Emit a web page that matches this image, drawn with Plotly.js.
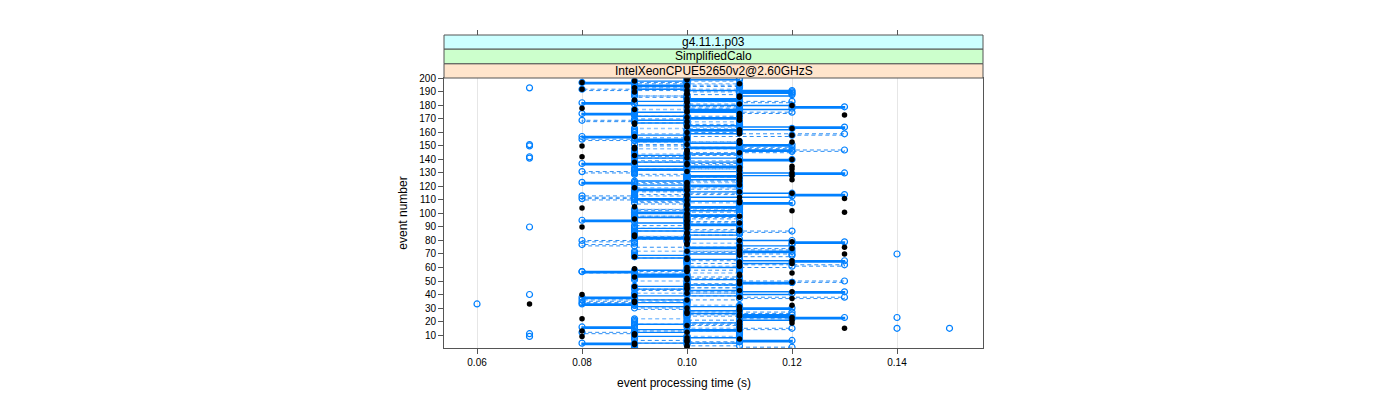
<!DOCTYPE html>
<html>
<head>
<meta charset="utf-8">
<script src="https://cdn.plot.ly/plotly-3.0.1.min.js"></script>
<style>html,body{margin:0;padding:0;background:#fff;}#chart{width:1400px;height:400px;}</style>
</head>
<body>
<div id="chart"></div>
<script>
// ---- data (event processing time in seconds, per event 1..200) ----
const stripLabels = ["g4.11.1.p03", "SimplifiedCalo", "IntelXeonCPUE52650v2@2.60GHzS"];
const xTickVals = [0.06, 0.08, 0.10, 0.12, 0.14];
const yTickVals = [10,20,30,40,50,60,70,80,90,100,110,120,130,140,150,160,170,180,190,200];
const xTitle = "event processing time (s)";
const yTitle = "event number";

const timesBlack = [
 .10,.10,.09,.09,.10,.10,.11,.10,.08,.09,
 .09,.10,.08,.11,.13,.11,.10,.11,.12,.11,
 .12,.08,.12,.11,.11,.10,.10,.11,.11,.10,
 .11,.12,.07,.09,.09,.10,.12,.11,.09,.08,
 .10,.12,.11,.10,.10,.09,.10,.11,.12,.11,
 .10,.10,.09,.11,.11,.12,.10,.10,.09,.10,
 .11,.11,.12,.11,.12,.10,.10,.09,.11,.13,
 .11,.10,.11,.12,.13,.11,.10,.10,.12,.11,
 .10,.10,.09,.09,.10,.10,.11,.11,.10,.08,
 .10,.10,.11,.10,.10,.09,.10,.11,.10,.10,
 .13,.12,.10,.08,.09,.10,.10,.11,.11,.10,
 .13,.11,.10,.10,.12,.11,.10,.10,.09,.10,
 .11,.10,.10,.11,.12,.11,.11,.12,.11,.12,
 .10,.11,.12,.11,.12,.10,.10,.09,.11,.12,
 .10,.08,.09,.10,.11,.10,.10,.09,.09,.08,
 .10,.11,.12,.11,.10,.10,.09,.12,.11,.10,
 .11,.11,.12,.10,.10,.09,.09,.10,.11,.11,
 .10,.11,.13,.11,.10,.10,.09,.08,.10,.12,
 .11,.10,.10,.09,.10,.11,.11,.10,.10,.09,
 .10,.08,.09,.10,.10,.11,.08,.09,.10,.10
];
const timesRunA = [
 .09,.09,.09,.08,.11,.12,.11,.11,.10,.09,
 .09,.09,.10,.11,.09,.08,.09,.09,.10,.11,
 .11,.12,.13,.11,.12,.11,.10,.10,.11,.12,
 .11,.09,.08,.09,.10,.10,.09,.08,.09,.11,
 .12,.13,.11,.10,.09,.09,.10,.11,.12,.11,
 .11,.10,.10,.09,.10,.09,.08,.09,.10,.10,
 .11,.11,.11,.12,.13,.11,.10,.09,.09,.10,
 .11,.12,.11,.11,.10,.11,.12,.12,.13,.12,
 .11,.09,.10,.10,.11,.11,.10,.09,.09,.10,
 .10,.11,.10,.09,.08,.09,.09,.10,.11,.10,
 .09,.10,.11,.11,.10,.11,.11,.12,.11,.10,
 .09,.10,.12,.13,.12,.11,.10,.09,.10,.10,
 .11,.09,.08,.09,.10,.11,.11,.10,.12,.13,
 .11,.10,.09,.10,.11,.09,.08,.09,.11,.12,
 .11,.09,.09,.10,.11,.11,.12,.11,.10,.11,
 .12,.11,.10,.09,.10,.09,.08,.09,.10,.11,
 .11,.10,.12,.13,.11,.10,.10,.09,.09,.10,
 .11,.10,.09,.08,.09,.11,.10,.12,.13,.12,
 .09,.08,.09,.11,.10,.11,.11,.12,.12,.11,
 .12,.10,.09,.09,.10,.09,.08,.09,.10,.11
];
const timesRunB = [
 .12,.11,.10,.10,.11,.10,.09,.09,.09,.09,
 .09,.08,.09,.11,.12,.11,.11,.10,.11,.10,
 .10,.11,.12,.11,.10,.11,.12,.11,.10,.09,
 .10,.09,.09,.08,.09,.08,.11,.13,.11,.10,
 .10,.11,.10,.09,.10,.11,.11,.10,.12,.13,
 .11,.10,.11,.10,.09,.09,.08,.10,.11,.11,
 .12,.13,.11,.10,.10,.11,.11,.11,.12,.12,
 .11,.10,.11,.12,.11,.09,.08,.09,.09,.08,
 .09,.10,.09,.10,.11,.11,.12,.11,.10,.09,
 .09,.10,.10,.11,.10,.10,.11,.09,.10,.11,
 .11,.10,.09,.10,.11,.10,.10,.09,.10,.09,
 .08,.09,.08,.09,.11,.10,.09,.10,.11,.11,
 .10,.10,.09,.10,.11,.10,.10,.11,.10,.09,
 .08,.09,.10,.11,.10,.10,.11,.10,.09,.10,
 .10,.09,.10,.11,.10,.12,.13,.11,.12,.10,
 .09,.10,.11,.09,.08,.09,.10,.12,.13,.11,
 .10,.10,.11,.11,.10,.11,.10,.09,.08,.09,
 .10,.10,.11,.11,.12,.11,.11,.11,.10,.11,
 .10,.11,.12,.11,.11,.10,.09,.10,.11,.12,
 .10,.08,.09,.10,.11,.10,.09,.10,.11,.10
];
const timesRunC = [
 .09,.09,.09,.09,.10,.10,.10,.10,.10,.11,
 .11,.11,.11,.11,.11,.10,.10,.10,.09,.09,
 .09,.09,.10,.10,.10,.10,.10,.11,.11,.11,
 .11,.11,.10,.10,.10,.09,.09,.09,.09,.09,
 .09,.11,.11,.11,.11,.10,.10,.10,.10,.10,
 .09,.09,.09,.09,.09,.09,.11,.11,.11,.11,
 .11,.10,.10,.10,.10,.10,.10,.09,.09,.09,
 .09,.09,.11,.11,.11,.11,.11,.11,.10,.10,
 .10,.10,.10,.09,.09,.09,.09,.11,.11,.11,
 .11,.11,.10,.10,.10,.10,.10,.10,.09,.09,
 .09,.09,.09,.11,.11,.11,.11,.11,.10,.10,
 .10,.10,.10,.09,.09,.09,.09,.09,.09,.11,
 .11,.11,.11,.10,.10,.10,.10,.10,.09,.09,
 .09,.09,.09,.11,.11,.11,.11,.11,.11,.10,
 .10,.10,.10,.10,.09,.09,.09,.09,.11,.11,
 .11,.11,.11,.10,.10,.10,.10,.10,.10,.09,
 .09,.09,.09,.11,.11,.11,.11,.11,.10,.10,
 .10,.10,.09,.09,.09,.09,.09,.11,.11,.11,
 .11,.11,.11,.10,.10,.10,.10,.09,.09,.09,
 .09,.09,.11,.11,.11,.11,.10,.10,.10,.10
];
// isolated slow/fast events (open circles without connecting steps)
const outlierTimes  = [.06, .07, .07, .07, .07, .07, .07, .07, .07, .07, .14, .14, .14, .15];
const outlierEvents = [ 33, 193, 151, 150, 142, 141,  90,  40,  11,   9,  70,  23,  15,  15];

const eventNumbers = timesBlack.map((_, i) => i + 1);

// ---- traces ----
const FONT = "Liberation Sans, Arial, Helvetica, sans-serif";
const BLUE = "#0080ff";
const openCircle = {symbol: "circle-open", size: 6, color: BLUE, line: {width: 1.2, color: BLUE}};
const traces = [
  {
    x: timesRunC, y: eventNumbers, type: "scatter", mode: "lines+markers",
    line: {shape: "hv", color: "#8cc4ff", width: 1.5, dash: "4px,3px"},
    marker: openCircle, hoverinfo: "x+y"
  },
  {
    x: timesRunB, y: eventNumbers, type: "scatter", mode: "lines+markers",
    line: {shape: "hv", color: "#2b8ef5", width: 1, dash: "4px,3px"},
    marker: openCircle, hoverinfo: "x+y"
  },
  {
    x: timesRunA, y: eventNumbers, type: "scatter", mode: "lines+markers",
    line: {shape: "hv", color: BLUE, width: 1.4},
    marker: openCircle, hoverinfo: "x+y"
  },
  {
    x: outlierTimes, y: outlierEvents, type: "scatter", mode: "markers",
    marker: openCircle, hoverinfo: "x+y"
  },
  {
    x: timesBlack, y: eventNumbers, type: "scatter", mode: "markers",
    marker: {symbol: "circle", size: 5.5, color: "#000000"},
    hoverinfo: "x+y"
  },
  { // carries the top tick marks above the strips
    x: [xTickVals[0]], y: [yTickVals[0]], xaxis: "x2", type: "scatter", mode: "markers",
    marker: {opacity: 0}, hoverinfo: "skip", showlegend: false
  }
];

// ---- layout ----
const xr = [0.05371, 0.15638];
const panelTop = 0.8626;               // panel top in paper units (strips above)
const stripEdges = [0.8626, 0.9083, 0.9553, 1.0];
const stripColors = ["#ffe5cc", "#ccffcc", "#ccffff"];
const stripOrder = [2, 1, 0];          // bottom strip first

const shapes = [];
const annotations = [];
for (let k = 0; k < 3; k++) {
  shapes.push({
    type: "rect", xref: "paper", yref: "paper", x0: 0, x1: 1,
    y0: stripEdges[k], y1: stripEdges[k + 1],
    fillcolor: stripColors[k], line: {color: "#555555", width: 1}, layer: "above"
  });
  annotations.push({
    xref: "paper", yref: "paper", x: 0.5, y: (stripEdges[k] + stripEdges[k + 1]) / 2,
    text: stripLabels[stripOrder[k]], showarrow: false, xanchor: "center", yanchor: "middle",
    font: {family: FONT, size: 12, color: "#000"}
  });
}
annotations.push({
  xref: "paper", yref: "paper", x: 0.4453, y: -0.112, yanchor: "middle", xanchor: "center",
  text: xTitle, showarrow: false, font: {family: FONT, size: 12, color: "#000"}
});

const layout = {
  width: 1400, height: 400,
  margin: {l: 444, r: 417, t: 35, b: 52, pad: 0},
  paper_bgcolor: "#ffffff", plot_bgcolor: "#ffffff",
  showlegend: false,
  font: {family: FONT, size: 10, color: "#000"},
  xaxis: {
    range: xr, tickvals: xTickVals, tickformat: ".2f",
    ticks: "outside", ticklen: 5, tickcolor: "#555555", tickwidth: 1,
    showline: true, mirror: true, linecolor: "#555555", linewidth: 1,
    showgrid: true, gridcolor: "#e6e6e6", gridwidth: 1, zeroline: false,
    tickfont: {family: FONT, size: 10, color: "#000"}, anchor: "y",
    title: {text: ""}
  },
  xaxis2: {
    range: xr, tickvals: xTickVals, overlaying: "x", anchor: "free", position: 1, side: "top",
    ticks: "outside", ticklen: 5, tickcolor: "#555555", tickwidth: 1,
    showticklabels: false, showline: false, showgrid: false, zeroline: false
  },
  yaxis: {
    domain: [0, panelTop], range: [0.4, 200.3], tickvals: yTickVals,
    ticks: "outside", ticklen: 5, tickcolor: "#555555", tickwidth: 1,
    showline: true, mirror: true, linecolor: "#555555", linewidth: 1,
    showgrid: false, zeroline: false,
    tickfont: {family: FONT, size: 10, color: "#000"},
    title: {text: yTitle, font: {family: FONT, size: 12, color: "#000"}, standoff: 9}
  },
  shapes: shapes,
  annotations: annotations
};

Plotly.newPlot("chart", traces, layout, {displayModeBar: false, staticPlot: true});
</script>
</body>
</html>
